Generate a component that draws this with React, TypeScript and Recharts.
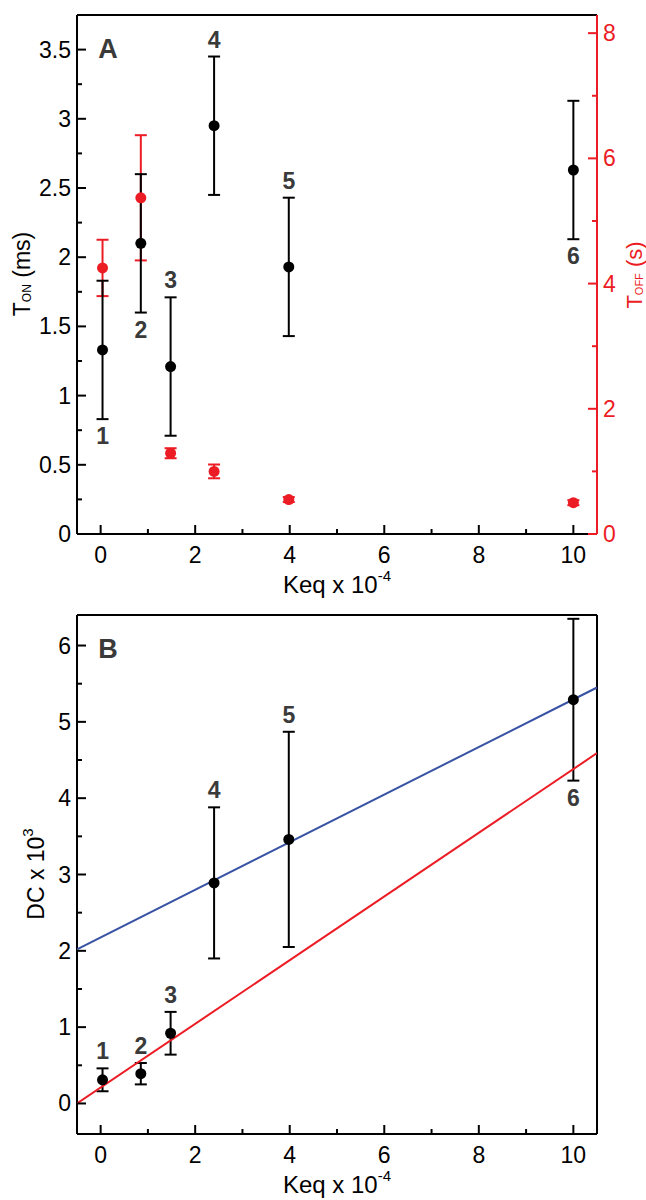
import { ScatterChart, Scatter, XAxis, YAxis, ErrorBar } from 'recharts';

const FONT = "'Liberation Sans', Arial, Helvetica, sans-serif";
const RED = '#ec1c24';
const BLUE = '#3852a4';
const LABEL_GRAY = '#3a3a3a';

// Keq x 10^-4 for constructs 1..6
const keq = [0.04, 0.85, 1.48, 2.4, 3.98, 10];
const constructs = ['1', '2', '3', '4', '5', '6'];

// panel A
const tOn = [1.33, 2.1, 1.21, 2.95, 1.93, 2.63];
const tOnErr = [0.5, 0.5, 0.5, 0.5, 0.5, 0.5];
const tOff = [4.25, 5.37, 1.29, 1.0, 0.55, 0.5];
const tOffErr = [0.45, 1.0, 0.08, 0.11, 0.04, 0.04];

// panel B
const dc = [0.31, 0.39, 0.92, 2.89, 3.46, 5.29];
const dcErr = [0.15, 0.14, 0.28, 0.99, 1.41, 1.06];
const blueFitX = [-0.5, 10.5];
const blueFitY = [2.02, 5.45];
const redFitX = [-0.5, 10.5];
const redFitY = [0.0, 4.59];

// ticks
const xTicks = [0, 1, 2, 3, 4, 5, 6, 7, 8, 9, 10];
const tOnTicks = [0, 0.25, 0.5, 0.75, 1, 1.25, 1.5, 1.75, 2, 2.25, 2.5, 2.75, 3, 3.25, 3.5];
const tOffTicks = [0, 1, 2, 3, 4, 5, 6, 7, 8];
const dcTicks = [0, 0.5, 1, 1.5, 2, 2.5, 3, 3.5, 4, 4.5, 5, 5.5, 6];

// which number labels sit under the error bar
const belowA = [true, true, false, false, false, true];
const belowB = [false, false, false, false, false, true];

const pts = (ys: number[], errs: number[]) => keq.map((x, i) => ({ x, y: ys[i], err: errs[i] }));
const labelPts = (ys: number[], errs: number[], below: boolean[]) =>
  keq.map((x, i) => ({ x, y: below[i] ? ys[i] - errs[i] : ys[i] + errs[i], n: constructs[i], below: below[i] }));
const line = (xs: number[], ys: number[]) => xs.map((x, i) => ({ x, y: ys[i] }));

const isMult = (v: number, step: number) => Math.abs(v / step - Math.round(v / step)) < 1e-6;

const makeTick = (side: 'bottom' | 'left' | 'right', step: number, color = '#000') => (props: any) => {
  const { x, y, payload } = props;
  const v = payload.value;
  const major = isMult(v, step);
  const len = major ? 9 : 5;
  if (side === 'bottom') {
    return (
      <g>
        <line x1={x} x2={x} y1={y} y2={y - len} stroke={color} strokeWidth={2} />
        {major && (
          <text x={x} y={y + 21} textAnchor="middle" dominantBaseline="central" fontSize={23} fontFamily={FONT} fill={color}>
            {v}
          </text>
        )}
      </g>
    );
  }
  const dir = side === 'left' ? 1 : -1;
  return (
    <g>
      <line x1={x} x2={x + dir * len} y1={y} y2={y} stroke={color} strokeWidth={2} />
      {major && (
        <text
          x={x - dir * 6}
          y={y}
          textAnchor={side === 'left' ? 'end' : 'start'}
          dominantBaseline="central"
          fontSize={23}
          fontFamily={FONT}
          fill={color}
        >
          {v}
        </text>
      )}
    </g>
  );
};

const dot = (color: string) => (p: any) => <circle cx={p.cx} cy={p.cy} r={5.5} fill={color} />;

const numLabel = (p: any) => (
  <text
    x={p.cx}
    y={p.cy + (p.payload.below ? 17 : -17)}
    textAnchor="middle"
    dominantBaseline="central"
    fontSize={23}
    fontWeight="bold"
    fontFamily={FONT}
    fill={LABEL_GRAY}
  >
    {p.payload.n}
  </text>
);

const keqTitle = (props: any) => {
  const vb = props.viewBox;
  return (
    <text x={vb.x + vb.width / 2} y={vb.y + 50} textAnchor="middle" dominantBaseline="central" fontSize={24} fontFamily={FONT} fill="#000">
      Keq x 10<tspan dy={-9} fontSize={15}>-4</tspan>
    </text>
  );
};

const panelLetter = (letter: string) => (props: any) => {
  const vb = props.viewBox;
  return (
    <text x={vb.x + 31} y={vb.y + 36} textAnchor="middle" dominantBaseline="central" fontSize={27} fontWeight="bold" fontFamily={FONT} fill={LABEL_GRAY}>
      {letter}
    </text>
  );
};

const tOnTitle = () => (
  <text x={22} y={274} transform="rotate(-90, 22, 274)" textAnchor="middle" dominantBaseline="central" fontSize={23} fontFamily={FONT} fill="#000">
    T<tspan fontSize={12} dy={5}>ON</tspan>
    <tspan dy={-5}> (ms)</tspan>
  </text>
);

const tOffTitle = () => (
  <text x={634} y={275} transform="rotate(-90, 634, 275)" textAnchor="middle" dominantBaseline="central" fontSize={22} fontFamily={FONT} fill={RED}>
    T<tspan fontSize={11} dy={5}>OFF</tspan>
    <tspan dy={-5}> (s)</tspan>
  </text>
);

const dcTitle = () => (
  <text x={36} y={274} transform="rotate(-90, 36, 274)" textAnchor="middle" dominantBaseline="central" fontSize={23} fontFamily={FONT} fill="#000">
    DC x 10<tspan dy={-9} fontSize={15}>3</tspan>
  </text>
);

const MARGIN = { top: 13, right: 9, bottom: 16, left: 17 };
const AXIS = { stroke: '#000', strokeWidth: 2 };

function PanelA() {
  return (
    <ScatterChart width={646} height={600} margin={MARGIN}>
      <XAxis
        type="number"
        dataKey="x"
        domain={[-0.5, 10.5]}
        allowDataOverflow
        ticks={xTicks}
        interval={0}
        tickSize={0}
        tickMargin={0}
        tickLine={false}
        tick={makeTick('bottom', 2)}
        axisLine={AXIS}
        height={50}
        label={keqTitle}
      />
      <XAxis xAxisId="top" orientation="top" type="number" domain={[0, 1]} height={2} tick={false} tickLine={false} axisLine={AXIS} label={panelLetter('A')} />
      <YAxis
        type="number"
        dataKey="y"
        domain={[0, 3.75]}
        allowDataOverflow
        ticks={tOnTicks}
        interval={0}
        tickSize={0}
        tickMargin={0}
        tickLine={false}
        tick={makeTick('left', 0.5)}
        axisLine={AXIS}
        width={60}
        label={tOnTitle}
      />
      <YAxis
        yAxisId="right"
        orientation="right"
        type="number"
        dataKey="y"
        domain={[0, 8.29]}
        allowDataOverflow
        ticks={tOffTicks}
        interval={0}
        tickSize={0}
        tickMargin={0}
        tickLine={false}
        tick={makeTick('right', 2, RED)}
        axisLine={{ stroke: RED, strokeWidth: 2 }}
        width={40}
        label={tOffTitle}
      />
      <Scatter yAxisId="right" data={pts(tOff, tOffErr)} shape={dot(RED)} isAnimationActive={false}>
        <ErrorBar dataKey="err" direction="y" width={6} stroke={RED} strokeWidth={2} isAnimationActive={false} />
      </Scatter>
      <Scatter data={pts(tOn, tOnErr)} shape={dot('#000')} isAnimationActive={false}>
        <ErrorBar dataKey="err" direction="y" width={6} stroke="#000" strokeWidth={2} isAnimationActive={false} />
      </Scatter>
      <Scatter data={labelPts(tOn, tOnErr, belowA)} shape={numLabel} isAnimationActive={false} />
    </ScatterChart>
  );
}

function PanelB() {
  return (
    <ScatterChart width={646} height={600} margin={MARGIN}>
      <XAxis
        type="number"
        dataKey="x"
        domain={[-0.5, 10.5]}
        allowDataOverflow
        ticks={xTicks}
        interval={0}
        tickSize={0}
        tickMargin={0}
        tickLine={false}
        tick={makeTick('bottom', 2)}
        axisLine={AXIS}
        height={50}
        label={keqTitle}
      />
      <XAxis xAxisId="top" orientation="top" type="number" domain={[0, 1]} height={2} tick={false} tickLine={false} axisLine={AXIS} label={panelLetter('B')} />
      <YAxis
        type="number"
        dataKey="y"
        domain={[-0.4, 6.4]}
        allowDataOverflow
        ticks={dcTicks}
        interval={0}
        tickSize={0}
        tickMargin={0}
        tickLine={false}
        tick={makeTick('left', 1)}
        axisLine={AXIS}
        width={60}
        label={dcTitle}
      />
      <YAxis yAxisId="right" orientation="right" type="number" domain={[0, 1]} tick={false} tickLine={false} axisLine={AXIS} width={40} />
      <Scatter data={line(blueFitX, blueFitY)} line={{ stroke: BLUE, strokeWidth: 2 }} shape={() => <g />} isAnimationActive={false} />
      <Scatter data={line(redFitX, redFitY)} line={{ stroke: RED, strokeWidth: 2 }} shape={() => <g />} isAnimationActive={false} />
      <Scatter data={pts(dc, dcErr)} shape={dot('#000')} isAnimationActive={false}>
        <ErrorBar dataKey="err" direction="y" width={6} stroke="#000" strokeWidth={2} isAnimationActive={false} />
      </Scatter>
      <Scatter data={labelPts(dc, dcErr, belowB)} shape={numLabel} isAnimationActive={false} />
    </ScatterChart>
  );
}

export default function App() {
  return (
    <div style={{ position: 'absolute', left: 0, top: 0, width: 646, height: 1200, background: '#fff' }}>
      <PanelA />
      <PanelB />
    </div>
  );
}
